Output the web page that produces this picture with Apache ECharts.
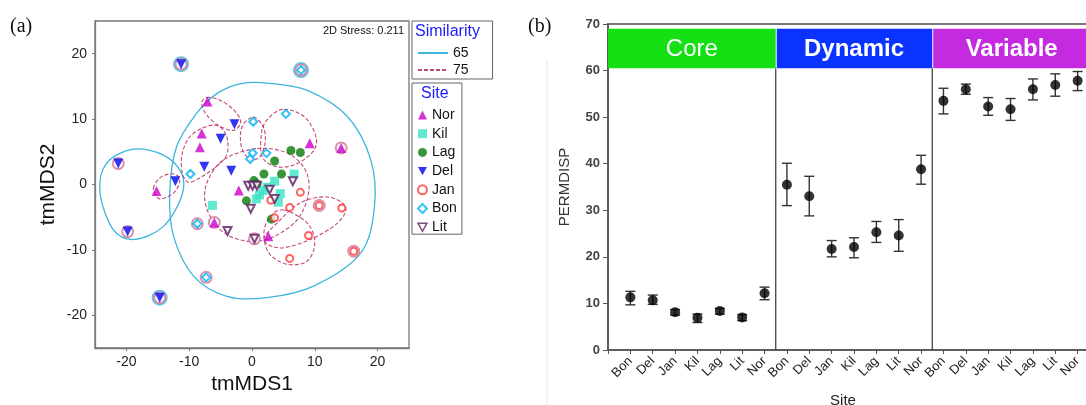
<!DOCTYPE html>
<html><head><meta charset="utf-8">
<script src="https://cdn.jsdelivr.net/npm/echarts@6/dist/echarts.min.js"></script>
<style>html,body{margin:0;padding:0;background:#fff}#c{width:1086px;height:405px}</style>
</head><body><div id="c"></div><script>
// ---------- Panel (a): nMDS points ----------
const siteNames = ['Nor','Kil','Lag','Del','Jan','Bon','Lit'];
const nor = [[-7.1,12.7],[-8.0,7.8],[-8.3,5.7],[-15.2,-1.0],[-2.1,-0.9],[-6.0,-5.8],[2.6,-7.9],[9.2,6.3],[14.2,5.6]];
const kil = [[-6.3,-3.2],[6.7,1.6],[3.6,0.5],[4.5,-1.4],[4.2,-2.7],[1.8,-0.9],[1.2,-1.6],[0.7,-2.2],[2.4,-0.4]];
const lag = [[6.2,5.2],[7.7,4.9],[3.6,3.6],[1.9,1.6],[4.7,1.6],[0.3,0.6],[0.8,0.1],[-0.9,-2.5],[3.1,-5.3]];
const del = [[-11.3,18.4],[-2.8,9.2],[-5.0,7.0],[-7.6,2.7],[-3.3,2.1],[-12.2,0.5],[-21.3,3.2],[-19.8,-7.2],[-14.7,-17.3]];
const jan = [[7.7,-1.2],[3.0,-2.4],[6.0,-3.5],[3.6,-5.1],[10.7,-3.2],[14.3,-3.6],[9.0,-7.8],[6.0,-11.3],[16.2,-10.2]];
const bon = [[7.8,17.5],[5.4,10.8],[0.2,9.6],[0.1,4.8],[2.3,4.8],[-0.3,3.9],[-9.8,1.6],[-8.7,-6.0],[-7.3,-14.2]];
const lit = [[-0.6,-0.2],[0.1,-0.2],[0.8,-0.2],[2.8,-0.8],[3.6,-2.2],[6.5,0.5],[-0.2,-3.7],[-3.9,-7.1],[0.4,-8.3]];
// single-member clusters (rings)
const ring65 = [[-11.3,18.4],[7.8,17.5],[-14.7,-17.3]];
const ring75 = [[-11.3,18.4],[7.8,17.5],[-14.7,-17.3],[14.2,5.6],[-21.3,3.2],[-19.8,-7.2],[-8.7,-6.0],[-6.0,-5.8],[10.7,-3.2],[16.2,-10.2],[0.4,-8.3],[-7.3,-14.2]];
// similarity contours (outline vertices)
const c65a = [[-1.9,15.4],[2.4,15.5],[8.8,14.4],[15.2,10.4],[18.9,3.8],[19.5,-3.4],[17.3,-10.5],[9.9,-15.5],[2.4,-17.3],[-4.0,-17.1],[-9.3,-14.0],[-12.5,-7.9],[-13.1,-1.3],[-12.0,5.8],[-8.8,10.9],[-5.6,13.9]];
const c65b = [[-18.9,5.4],[-14.1,4.5],[-11.2,1.7],[-11.2,-1.8],[-14.1,-6.4],[-18.7,-8.4],[-22.1,-6.9],[-24.2,-1.3],[-23.2,3.2]];
const c75a = [[-7.2,13.3],[-5.1,12.9],[-2.9,11.4],[-1.8,9.6],[-2.9,8.3],[-5.1,8.9],[-7.2,10.6],[-8.0,12.4]];
const c75b = [[-5.1,8.8],[-3.9,6.8],[-4.5,3.8],[-9.3,0.5],[-10.9,1.2],[-11.2,4.3],[-9.9,7.3],[-7.2,8.9]];
const c75c = [[-15.7,-0.6],[-14.4,1.2],[-12.3,1.6],[-11.5,0.5],[-12.5,-1.3],[-14.7,-2.2]];
const c75d = [[0.2,10.3],[1.8,8.8],[2.1,6.5],[1.3,4.3],[-0.3,3.8],[-1.7,5.8],[-1.6,8.8]];
const c75e = [[5.1,11.5],[8.3,10.4],[10.1,7.6],[9.9,5.3],[7.2,3.2],[4.0,2.7],[1.6,4.3],[1.6,8.3],[2.9,10.4]];
const c75f = [[0.8,5.5],[5.6,4.8],[8.5,2.2],[9.0,-1.3],[7.2,-5.4],[2.9,-8.2],[-1.3,-8.6],[-5.1,-6.9],[-7.3,-3.4],[-7.2,0.2],[-4.5,3.8]];
const c75g = [[1.9,-8.4],[4.0,-5.9],[7.7,-2.8],[12.0,-1.9],[14.9,-3.4],[13.6,-5.9],[9.3,-8.4],[4.5,-9.7]];
const c75h = [[5.1,-3.9],[8.8,-5.9],[10.0,-8.9],[8.8,-11.7],[5.6,-12.2],[2.7,-10.5],[1.9,-7.4],[2.9,-4.9]];
const contours65 = [c65a, c65b];
const contours75 = [c75a, c75b, c75c, c75d, c75e, c75f, c75g, c75h];

// ---------- Panel (b): PERMDISP ----------
const groups = ['Core','Dynamic','Variable'];
const sitesB = ['Bon','Del','Jan','Kil','Lag','Lit','Nor'];
const coreMean = [11.3,10.7,8.1,6.9,8.4,7.0,12.2];
const coreLow  = [9.7,9.8,7.5,5.9,7.7,6.3,10.8];
const coreHigh = [12.6,11.8,8.7,7.7,8.9,7.6,13.5];
const dynMean = [35.5,33.0,21.7,22.1,25.3,24.6,38.8];
const dynLow  = [31.0,28.8,20.0,19.8,23.1,21.2,35.6];
const dynHigh = [40.1,37.3,23.5,24.1,27.6,28.0,41.8];
const varMean = [53.5,56.0,52.3,51.7,56.0,56.9,57.8];
const varLow  = [50.7,54.9,50.4,49.3,53.7,54.5,55.7];
const varHigh = [56.2,57.1,54.2,54.0,58.2,59.3,59.8];
const bandStart = [0, 7.5, 14.5];
const bandEnd = [7.5, 14.5, 21.6];
const bandColors = ['#14e014','#0a33ff','#c42ae0'];
const bandWeights = ['normal','bold','bold'];
const dividers = [7.5, 14.5];

const FONT = '"Liberation Sans", Arial, sans-serif';
const means = [coreMean, dynMean, varMean], lows = [coreLow, dynLow, varLow], highs = [coreHigh, dynHigh, varHigh];
const meanData = [], errData = [];
for (let g = 0; g < 3; g++) for (let i = 0; i < 7; i++) {
  const x = g * 7 + i + 1;
  meanData.push([x, means[g][i]]);
  errData.push([x, lows[g][i], highs[g][i]]);
}

const DOWN_TRI = 'path://M0,0L10,0L5,9Z';
const symDefs = {
  Nor: {data: nor, symbol: 'triangle', rot: 0, size: 10, color: '#cc00cc'},
  Kil: {data: kil, symbol: 'rect', rot: 0, size: 9, color: '#38e3c6'},
  Lag: {data: lag, symbol: 'circle', rot: 0, size: 9, color: '#077a07'},
  Del: {data: del, symbol: 'triangle', rot: 180, size: 10, color: '#0000f0'},
  Jan: {data: jan, symbol: 'emptyCircle', rot: 0, size: 7, color: '#ff3a3a'},
  Bon: {data: bon, symbol: 'emptyDiamond', rot: 0, size: 8, color: '#00b2f5'},
  Lit: {data: lit, symbol: 'emptyTriangle', rot: 180, size: 8, color: '#5e1e60'}
};

// closed Catmull-Rom spline through pixel points -> SVG path string
function closedSpline(pts) {
  const n = pts.length;
  let d = 'M' + pts[0][0] + ' ' + pts[0][1];
  for (let i = 0; i < n; i++) {
    const p0 = pts[(i - 1 + n) % n], p1 = pts[i], p2 = pts[(i + 1) % n], p3 = pts[(i + 2) % n];
    const c1 = [p1[0] + (p2[0] - p0[0]) / 6, p1[1] + (p2[1] - p0[1]) / 6];
    const c2 = [p2[0] - (p3[0] - p1[0]) / 6, p2[1] - (p3[1] - p1[1]) / 6];
    d += 'C' + c1[0] + ' ' + c1[1] + ' ' + c2[0] + ' ' + c2[1] + ' ' + p2[0] + ' ' + p2[1];
  }
  return d + 'Z';
}

const chart = echarts.init(document.getElementById('c'));
const series = [];

function contourSeries(list, color, dash, width) {
  return {
    type: 'custom', xAxisIndex: 0, yAxisIndex: 0, silent: true, z: 2,
    data: list.map((_, i) => i),
    renderItem: function (params, api) {
      const pts = list[params.dataIndex].map(p => api.coord(p));
      return {type: 'path', shape: {pathData: closedSpline(pts)},
        style: {fill: 'none', stroke: color, lineWidth: width, lineDash: dash}};
    }
  };
}
series.push(contourSeries(contours65, '#3db5dd', null, 1.3));
series.push(contourSeries(contours75, '#c24a78', [4, 2], 1.1));
// legend-only line series
series.push({name: '65', type: 'line', xAxisIndex: 0, yAxisIndex: 0, data: [], symbol: 'none', lineStyle: {color: '#3db5dd', width: 1.3}});
series.push({name: '75', type: 'line', xAxisIndex: 0, yAxisIndex: 0, data: [], symbol: 'none', lineStyle: {color: '#c24a78', width: 1.1, type: [4, 2]}});
series.push({type: 'scatter', xAxisIndex: 0, yAxisIndex: 0, silent: true, z: 3, data: ring65, symbol: 'emptyCircle', symbolSize: 14,
  itemStyle: {color: '#3db5dd', borderWidth: 1.2}});
series.push({type: 'scatter', xAxisIndex: 0, yAxisIndex: 0, silent: true, z: 3, data: ring75, symbol: 'emptyCircle', symbolSize: 11,
  itemStyle: {color: '#d07898', borderWidth: 1.1}});
siteNames.forEach(n => {
  const d = symDefs[n];
  const empty = d.symbol.indexOf('empty') === 0;
  series.push({name: n, type: 'scatter', xAxisIndex: 0, yAxisIndex: 0, z: 5, data: d.data, symbol: d.symbol,
    symbolRotate: d.rot, symbolSize: d.size,
    itemStyle: {color: d.color, borderWidth: empty ? 1.6 : 0}});
});

// panel b
series.push({
  type: 'custom', xAxisIndex: 1, yAxisIndex: 1, silent: true, z: 2,
  data: groups.map((g, i) => [bandStart[i], bandEnd[i], i]),
  renderItem: function (params, api) {
    const i = params.dataIndex;
    const p0 = api.coord([bandStart[i], 69]), p1 = api.coord([bandEnd[i], 60.5]);
    return {type: 'group', children: [
      {type: 'rect', shape: {x: p0[0] + (i ? 1 : 0), y: p0[1], width: p1[0] - p0[0] - (i ? 1 : 0), height: p1[1] - p0[1]}, style: {fill: bandColors[i]}},
      {type: 'text', style: {x: (p0[0] + p1[0]) / 2, y: (p0[1] + p1[1]) / 2 + 1, text: groups[i], fill: '#fff',
        font: bandWeights[i] + ' 24px ' + FONT, align: 'center', verticalAlign: 'middle'}}
    ]};
  }
});
series.push({
  type: 'custom', xAxisIndex: 1, yAxisIndex: 1, silent: true, z: 3,
  data: dividers,
  renderItem: function (params, api) {
    const x = dividers[params.dataIndex];
    const a = api.coord([x, 60.5]), b = api.coord([x, 0]);
    return {type: 'line', shape: {x1: a[0], y1: a[1], x2: b[0], y2: b[1]}, style: {stroke: '#444', lineWidth: 1.3}};
  }
});
series.push({
  type: 'custom', xAxisIndex: 1, yAxisIndex: 1, silent: true, z: 4,
  data: errData,
  renderItem: function (params, api) {
    const x = api.value(0);
    const pl = api.coord([x, api.value(1)]), ph = api.coord([x, api.value(2)]);
    const w = 5, st = {stroke: '#333', lineWidth: 1.4};
    return {type: 'group', children: [
      {type: 'line', shape: {x1: pl[0], y1: pl[1], x2: ph[0], y2: ph[1]}, style: st},
      {type: 'line', shape: {x1: pl[0] - w, y1: pl[1], x2: pl[0] + w, y2: pl[1]}, style: st},
      {type: 'line', shape: {x1: ph[0] - w, y1: ph[1], x2: ph[0] + w, y2: ph[1]}, style: st}
    ]};
  }
});
series.push({type: 'scatter', xAxisIndex: 1, yAxisIndex: 1, z: 5, data: meanData, symbol: 'circle', symbolSize: 10,
  itemStyle: {color: '#000'}});

// legend entries for the site legend (inverted triangles need an explicit icon)
const siteLegendData = siteNames.map(n => {
  const d = symDefs[n];
  if (n === 'Del') return {name: n, icon: DOWN_TRI, itemStyle: {color: d.color}};
  if (n === 'Lit') return {name: n, icon: DOWN_TRI, itemStyle: {color: '#fff', borderColor: d.color, borderWidth: 1.5}};
  return {name: n};
});

const option = {
  animation: false,
  backgroundColor: '#fff',
  textStyle: {fontFamily: FONT},
  grid: [
    {left: 95, top: 21, width: 314, height: 327, show: true, borderColor: '#777', borderWidth: 1.3, containLabel: false, outerBoundsMode: 'none'},
    {left: 608, top: 24, width: 492, height: 326, show: true, borderColor: '#777', borderWidth: 2, containLabel: false, outerBoundsMode: 'none'}
  ],
  xAxis: [
    {type: 'value', gridIndex: 0, min: -25, max: 25, splitLine: {show: false},
      axisLine: {show: true, onZero: false, lineStyle: {color: '#777', width: 1.3}}, axisTick: {show: true, length: 3, lineStyle: {color: '#777'}},
      axisLabel: {showMinLabel: false, showMaxLabel: false, fontSize: 14, color: '#222', margin: 7},
      name: 'tmMDS1', nameLocation: 'middle', nameGap: 23, nameTextStyle: {fontSize: 21, color: '#111'}},
    {type: 'value', gridIndex: 1, min: 0, max: 22, interval: 1, splitLine: {show: false},
      axisLine: {show: true, onZero: false, lineStyle: {color: '#555', width: 1.5}}, axisTick: {show: true, length: 4, lineStyle: {color: '#555'}},
      axisLabel: {rotate: 45, fontSize: 13, color: '#222', margin: 9,
        formatter: v => (v >= 1 && v <= 21) ? sitesB[(v - 1) % 7] : ''},
      name: 'Site', nameLocation: 'middle', nameGap: 43, nameTextStyle: {fontSize: 15, color: '#222', padding: [0, 22, 0, 0]}}
  ],
  yAxis: [
    {type: 'value', gridIndex: 0, min: -25, max: 25, splitLine: {show: false},
      axisLine: {show: true, onZero: false, lineStyle: {color: '#777', width: 1.3}}, axisTick: {show: true, length: 3, lineStyle: {color: '#777'}},
      axisLabel: {showMinLabel: false, showMaxLabel: false, fontSize: 14, color: '#222', margin: 8},
      name: 'tmMDS2', nameLocation: 'middle', nameGap: 36, nameTextStyle: {fontSize: 21, color: '#111'}},
    {type: 'value', gridIndex: 1, min: 0, max: 70, interval: 10, splitLine: {show: false},
      axisLine: {show: true, onZero: false, lineStyle: {color: '#555', width: 1.5}}, axisTick: {show: true, length: 5, lineStyle: {color: '#555'}},
      axisLabel: {fontSize: 13, fontWeight: 'bold', color: '#444', margin: 8},
      name: 'PERMDISP', nameLocation: 'middle', nameGap: 36, nameTextStyle: {fontSize: 15, color: '#333'}}
  ],
  legend: [
    {data: [{name: '65', itemStyle: {opacity: 0}}, {name: '75', itemStyle: {opacity: 0}}], orient: 'vertical', left: 412, top: 21, padding: [25, 24, 2, 5], itemWidth: 30, itemHeight: 10, itemGap: 3,
      borderColor: '#666', borderWidth: 1, textStyle: {fontSize: 14, color: '#111'}, selectedMode: false},
    {data: siteLegendData, orient: 'vertical', left: 412, top: 83, padding: [25, 5, 0, 5], itemWidth: 9, itemHeight: 9, itemGap: 4.7,
      borderColor: '#666', borderWidth: 1, textStyle: {fontSize: 14, color: '#111'}, selectedMode: false}
  ],
  graphic: [
    {type: 'text', left: 10, top: 17, style: {text: '(a)', font: '20px "Liberation Serif", serif', fill: '#111'}},
    {type: 'text', left: 528, top: 17, style: {text: '(b)', font: '20px "Liberation Serif", serif', fill: '#111'}},
    {type: 'text', right: 1086 - 404, top: 25, style: {text: '2D Stress: 0.211', font: '11px ' + FONT, fill: '#111'}},
    {type: 'text', left: 415, top: 24, style: {text: 'Similarity', font: '16px ' + FONT, fill: '#1a1aff'}},
    {type: 'text', left: 421, top: 86, style: {text: 'Site', font: '16px ' + FONT, fill: '#1a1aff'}},
    {type: 'line', shape: {x1: 547, y1: 60, x2: 547, y2: 405}, style: {stroke: '#e6e6e6', lineWidth: 1}}
  ],
  series: series
};
chart.setOption(option);
</script></body></html>
